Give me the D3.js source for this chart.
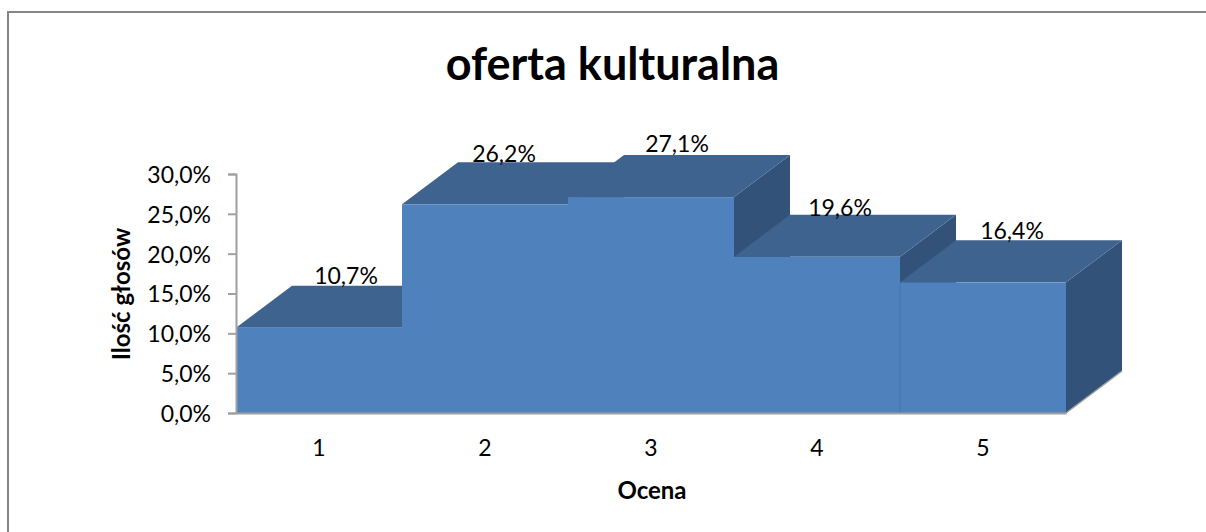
<!DOCTYPE html>
<html>
<head>
<meta charset="utf-8">
<script src="https://d3js.org/d3.v7.min.js"></script>
<style>
  html, body { margin: 0; padding: 0; background: #fff; }
  svg { display: block; }
  text { font-family: Lato, "Open Sans", sans-serif; fill: #000; }
</style>
</head>
<body>
<script>
"use strict";

var categories = ["1", "2", "3", "4", "5"];
var values = [10.7, 26.2, 27.1, 19.6, 16.4];
var valueLabels = ["10,7%", "26,2%", "27,1%", "19,6%", "16,4%"];
var yTicks = [0, 5, 10, 15, 20, 25, 30];

var w = 1206, h = 532;
//3D offset of the bars
var depthX = 56, depthY = 42;
//Label nudges, Excel places these a bit unevenly
var labelDx = [27, 19, 26, 23, 29];
var labelDy = [-10, -8, -11, -7, -9];

var svg = d3.select("body").append("svg").attr("width", w).attr("height", h);

//Scales
var xScale = d3.scaleBand().domain(categories).range([236, 1066]).padding(0);
var yScale = d3.scaleLinear().domain([0, 30]).range([413, 174]);

//Chart frame, only top and left are visible
svg.append("path")
  .attr("d", "M8,532V12H1206")
  .attr("fill", "none")
  .attr("stroke", "#868686")
  .attr("stroke-width", 2);

//Bars, painted left to right so the later ones cover the earlier sides
var bars = svg.append("g").selectAll("g").data(values).enter().append("g");

bars.append("path").attr("fill", "#325279").attr("d", function (d, i) {
  var x1 = xScale(categories[i]) + xScale.bandwidth();
  return d3.line()([[x1, yScale(0)], [x1, yScale(d)], [x1 + depthX, yScale(d) - depthY], [x1 + depthX, yScale(0) - depthY]]) + "Z";
});
bars.append("path").attr("fill", "#3e638f").attr("d", function (d, i) {
  var x0 = xScale(categories[i]), x1 = x0 + xScale.bandwidth();
  return d3.line()([[x0, yScale(d)], [x1, yScale(d)], [x1 + depthX, yScale(d) - depthY], [x0 + depthX, yScale(d) - depthY]]) + "Z";
});
bars.append("rect")
  .attr("x", function (d, i) { return xScale(categories[i]); })
  .attr("y", function (d) { return yScale(d); })
  .attr("width", xScale.bandwidth())
  .attr("height", function (d) { return yScale(0) - yScale(d); })
  .attr("fill", "#4f81bd");

//Thin seam where bar 5 meets bar 4
svg.append("line")
  .attr("x1", xScale("5")).attr("x2", xScale("5"))
  .attr("y1", yScale(values[4])).attr("y2", yScale(0))
  .attr("stroke", "#4876ad").attr("stroke-width", 1);

//Floor edge running back from the last bar
var floorX = xScale("5") + xScale.bandwidth();
svg.append("path")
  .attr("d", d3.line()([[floorX, yScale(0)], [floorX + depthX, yScale(0) - depthY]]))
  .attr("fill", "none").attr("stroke", "#a0a0a0").attr("stroke-width", 1.5);

//Axes
var yAxis = d3.axisLeft(yScale).tickValues(yTicks).tickSize(8).tickPadding(17)
  .tickFormat(function (d) { return d3.format(".1f")(d).replace(".", ",") + "%"; });
var xAxis = d3.axisBottom(xScale).tickSize(0).tickPadding(27);

var yAxisGroup = svg.append("g").attr("transform", "translate(236,0)").call(yAxis);
var xAxisGroup = svg.append("g").attr("transform", "translate(0,413)").call(xAxis);
yAxisGroup.selectAll("text").style("font-size", "23px").attr("y", 1);
xAxisGroup.selectAll("text").style("font-size", "23px");
svg.selectAll(".domain, .tick line").attr("stroke", "#a0a0a0").attr("stroke-width", 2);

//Value labels
svg.append("g").selectAll("text").data(valueLabels).enter().append("text")
  .attr("x", function (d, i) { return xScale(categories[i]) + xScale.bandwidth() / 2 + labelDx[i]; })
  .attr("y", function (d, i) { return yScale(values[i]) - depthY + labelDy[i]; })
  .attr("dy", "0.35em")
  .attr("text-anchor", "middle")
  .style("font-size", "23px")
  .text(function (d) { return d; });

//Titles
svg.append("text").attr("x", 612.5).attr("y", 80).attr("text-anchor", "middle")
  .style("font-size", "45px").style("font-weight", "bold").text("oferta kulturalna");
svg.append("text").attr("x", 652).attr("y", 499).attr("text-anchor", "middle")
  .style("font-size", "24px").style("font-weight", "bold").text("Ocena");
svg.append("text").attr("transform", "translate(130,294) rotate(-90)").attr("text-anchor", "middle")
  .style("font-size", "24px").style("font-weight", "bold").text("Ilość głosów");
</script>
</body>
</html>
